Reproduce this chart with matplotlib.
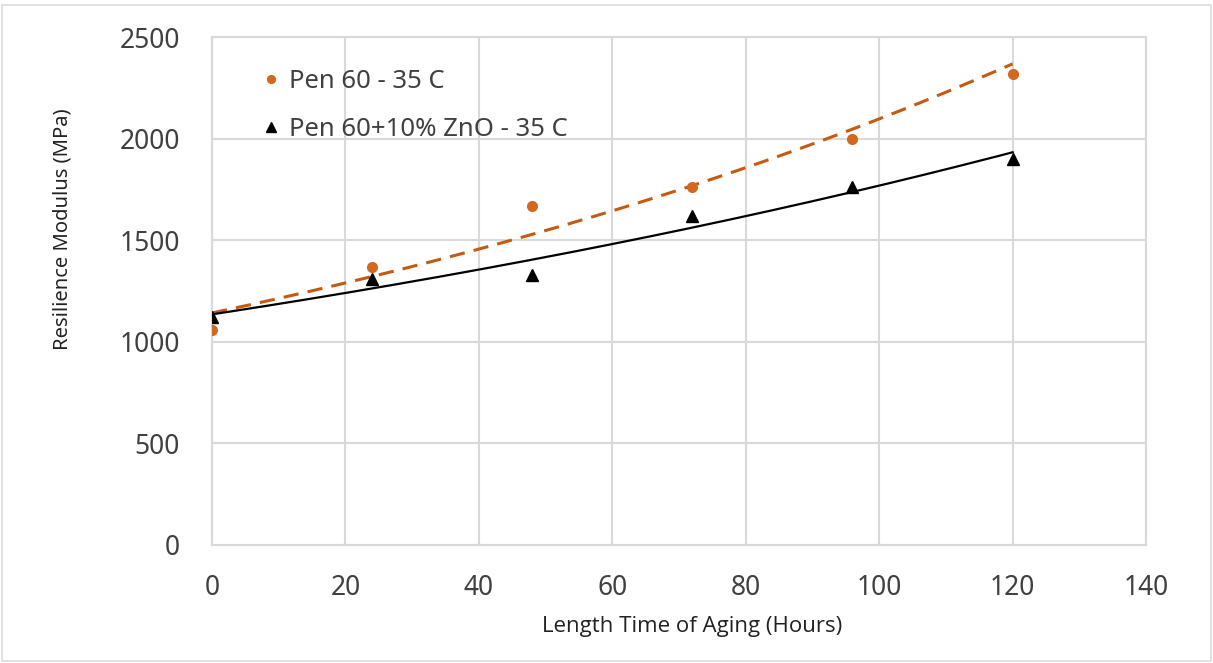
import numpy as np
import matplotlib
matplotlib.use('Agg')
import matplotlib.pyplot as plt
from matplotlib.patches import Rectangle

# data
hours = [0, 24, 48, 72, 96, 120]
pen60 = [1060, 1370, 1670, 1760, 2000, 2320]
pen60_zno = [1120, 1310, 1330, 1620, 1760, 1900]

labels = ['Pen 60 - 35 C', 'Pen 60+10% ZnO - 35 C']
orange = '#C55A11'
grid_col = '#D9D9D9'
txt_col = '#404040'

plt.rcParams['font.family'] = ['Noto Sans', 'DejaVu Sans']

fig = plt.figure(figsize=(12.13, 6.63), dpi=100)
ax = fig.add_axes([0.1748, 0.178, 0.77, 0.766])

# exponential trendlines (like Excel)
xs = np.linspace(0, 120, 200)
for ys, col, ls in [(pen60, orange, (0, (5, 3))), (pen60_zno, 'black', '-')]:
    b, a = np.polyfit(hours, np.log(ys), 1)
    ax.plot(xs, np.exp(a + b * xs), color=col, lw=2.2 if col == orange else 1.6, linestyle=ls, zorder=2)

ax.plot(hours, pen60, 'o', color='#D2691E', ms=7, zorder=3, label=labels[0])
ax.plot(hours, pen60_zno, '^', color='black', ms=8.5, zorder=3, label=labels[1])

ax.set_xlim(0, 140)
ax.set_ylim(0, 2500)
ax.set_xticks(range(0, 141, 20))
ax.set_yticks(range(0, 2501, 500))
ax.grid(True, color=grid_col, lw=1.5)
ax.set_axisbelow(True)
for s in ax.spines.values():
    s.set_color(grid_col)
    s.set_linewidth(1.5)
ax.tick_params(length=0, labelsize=19, colors=txt_col)
ax.tick_params(axis='y', pad=23)
ax.tick_params(axis='x', pad=21)

ax.set_ylabel('Resilience Modulus (MPa)', fontsize=14.5, color='#222222', va='center', ha='center')
ax.yaxis.set_label_coords(-0.1606, 0.621)
ax.set_xlabel('Length Time of Aging (Hours)', fontsize=16, color='#222222', va='center',
              fontfamily=['Open Sans', 'DejaVu Sans'])
ax.xaxis.set_label_coords(0.514, -0.16)

leg = ax.legend(loc='upper left', bbox_to_anchor=(0.022, 0.982), frameon=False, fontsize=18.5,
                handletextpad=0.1, labelspacing=0.88, handlelength=1.2, markerscale=0.8)
for t in leg.get_texts():
    t.set_color(txt_col)

fig.patches.append(Rectangle((0.002, 0.003), 0.996, 0.99, transform=fig.transFigure,
                             fill=False, edgecolor='#DDDDDD', lw=1.2))

fig.savefig('out.png', dpi=100)
